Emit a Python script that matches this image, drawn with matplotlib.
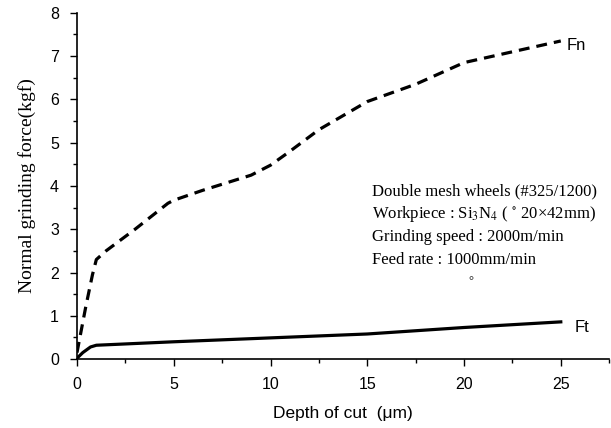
import matplotlib.pyplot as plt
from matplotlib.ticker import MultipleLocator

# values
fn_depth = [0, 0.45, 0.8, 1.0, 1.5, 3.0, 4.7, 5.0, 6.5, 9.0, 10.0, 11.0, 12.5, 15.0, 17.5, 20.0, 22.5, 25.0]
fn_force = [0.15, 1.2, 1.95, 2.3, 2.5, 3.0, 3.6, 3.67, 3.9, 4.25, 4.48, 4.8, 5.3, 5.95, 6.35, 6.85, 7.1, 7.35]
ft_depth = [0, 0.3, 0.7, 1.0, 5.0, 10.0, 15.0, 20.0, 25.0]
ft_force = [0.02, 0.15, 0.28, 0.32, 0.40, 0.49, 0.58, 0.73, 0.86]
x_ticks = [0, 5, 10, 15, 20, 25]
y_ticks = [0, 1, 2, 3, 4, 5, 6, 7, 8]
notes = ["Double mesh wheels (#325/1200)",
         "Workpiece : Si$_3$N$_4$ ( $^{\\circ}$ 20×42mm)",
         "Grinding speed : 2000m/min",
         "Feed rate : 1000mm/min"]

plt.rcParams['mathtext.fontset'] = 'stix'
fig = plt.figure(figsize=(6.11, 4.28), dpi=100)
ax = fig.add_axes([0.126, 0.161, 0.871, 0.809])

ax.plot(fn_depth, fn_force, color='black', linestyle=(0, (3.4, 2.2)), linewidth=2.3)
ax.plot(ft_depth, ft_force, color='black', linestyle='-', linewidth=2.3)

ax.set_xlim(0, 27.5)
ax.set_ylim(0, 8)
ax.set_xticks(x_ticks)
ax.set_yticks(y_ticks)
ax.xaxis.set_minor_locator(MultipleLocator(2.5))
ax.yaxis.set_minor_locator(MultipleLocator(0.5))
ax.tick_params(which='major', length=5, width=1, labelsize=11.5, pad=8)
ax.tick_params(which='minor', length=3, width=1)
for lab in ax.get_xticklabels() + ax.get_yticklabels():
    lab.set_family('Liberation Sans')
for s in ['top', 'right']:
    ax.spines[s].set_visible(False)
ax.spines['left'].set_linewidth(1.2)
ax.spines['bottom'].set_linewidth(1.2)

ax.set_xlabel('Depth of cut  (μm)', fontsize=12.5, family='Liberation Sans', labelpad=10)
ax.set_ylabel('Normal grinding force(kgf)', fontsize=14, family='Liberation Serif', labelpad=10)

ax.text(25.3, 7.25, 'Fn', fontsize=12, family='Liberation Sans', va='center')
ax.text(25.7, 0.72, 'Ft', fontsize=12, family='Liberation Sans', va='center')

for i, line in enumerate(notes):
    ax.text(15.25, 3.87 - i * 0.525, line, fontsize=12, family='Liberation Serif',
            va='center')
ax.text(20.2, 1.8, '°', fontsize=9, family='Liberation Serif', va='center')

fig.savefig('out.png', dpi=100)
